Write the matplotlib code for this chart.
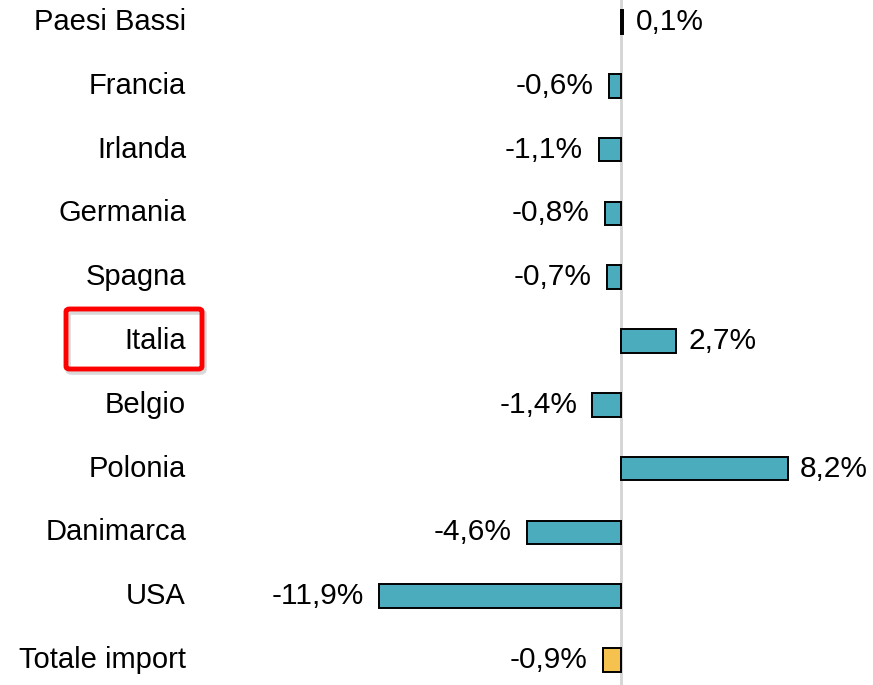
import matplotlib.pyplot as plt
from matplotlib.patches import FancyBboxPatch

paesi = ["Paesi Bassi", "Francia", "Irlanda", "Germania", "Spagna", "Italia",
         "Belgio", "Polonia", "Danimarca", "USA", "Totale import"]
variazioni = [0.1, -0.6, -1.1, -0.8, -0.7, 2.7, -1.4, 8.2, -4.6, -11.9, -0.9]

TEAL = "#4BACBD"
GIALLO = "#F5C250"

W, H = 873, 685
fig = plt.figure(figsize=(W / 100, H / 100), dpi=100)
ax = fig.add_axes([200 / W, 0, 1 - 200 / W, 1])

ys = list(range(len(paesi)))
colori = [TEAL] * (len(paesi) - 1) + [GIALLO]
ax.barh(ys, variazioni, height=0.37, color=colori, edgecolor="black",
        linewidth=1.4, zorder=3)
ax.axvline(0, color="#D4D4D4", linewidth=2, zorder=2)

ax.set_xlim(-20.7, 12.4)
ax.set_ylim(10.39, -0.345)
ax.axis("off")

for y, v in zip(ys, variazioni):
    testo = f"{v:.1f}%".replace(".", ",")
    if v >= 0:
        ax.annotate(testo, (v, y), xytext=(9, 0), textcoords="offset points",
                    ha="left", va="center", fontsize=21.5, family="Liberation Sans")
    else:
        ax.annotate(testo, (v, y), xytext=(-11, 0), textcoords="offset points",
                    ha="right", va="center", fontsize=21.5, family="Liberation Sans")

for y, nome in zip(ys, paesi):
    ax.annotate(nome, (0, y), xycoords=("figure fraction", "data"),
                xytext=(186, 0), textcoords="offset pixels",
                ha="right", va="center", fontsize=21, family="Liberation Sans")

# riquadro rosso attorno a Italia, con ombra leggera
x0, y0, bw, bh = 66 / W, 1 - 369 / H, 136 / W, 60 / H
ombra = FancyBboxPatch((x0 + 2 / W, y0 - 3 / H), bw, bh,
                       boxstyle="round,pad=0,rounding_size=0.004",
                       transform=fig.transFigure, facecolor="none",
                       edgecolor="#000000", alpha=0.15, linewidth=4)
box = FancyBboxPatch((x0, y0), bw, bh,
                     boxstyle="round,pad=0,rounding_size=0.004",
                     transform=fig.transFigure, facecolor="none",
                     edgecolor="#FF0000", linewidth=3.5)
fig.patches.extend([ombra, box])

fig.savefig("out.png", dpi=100)
